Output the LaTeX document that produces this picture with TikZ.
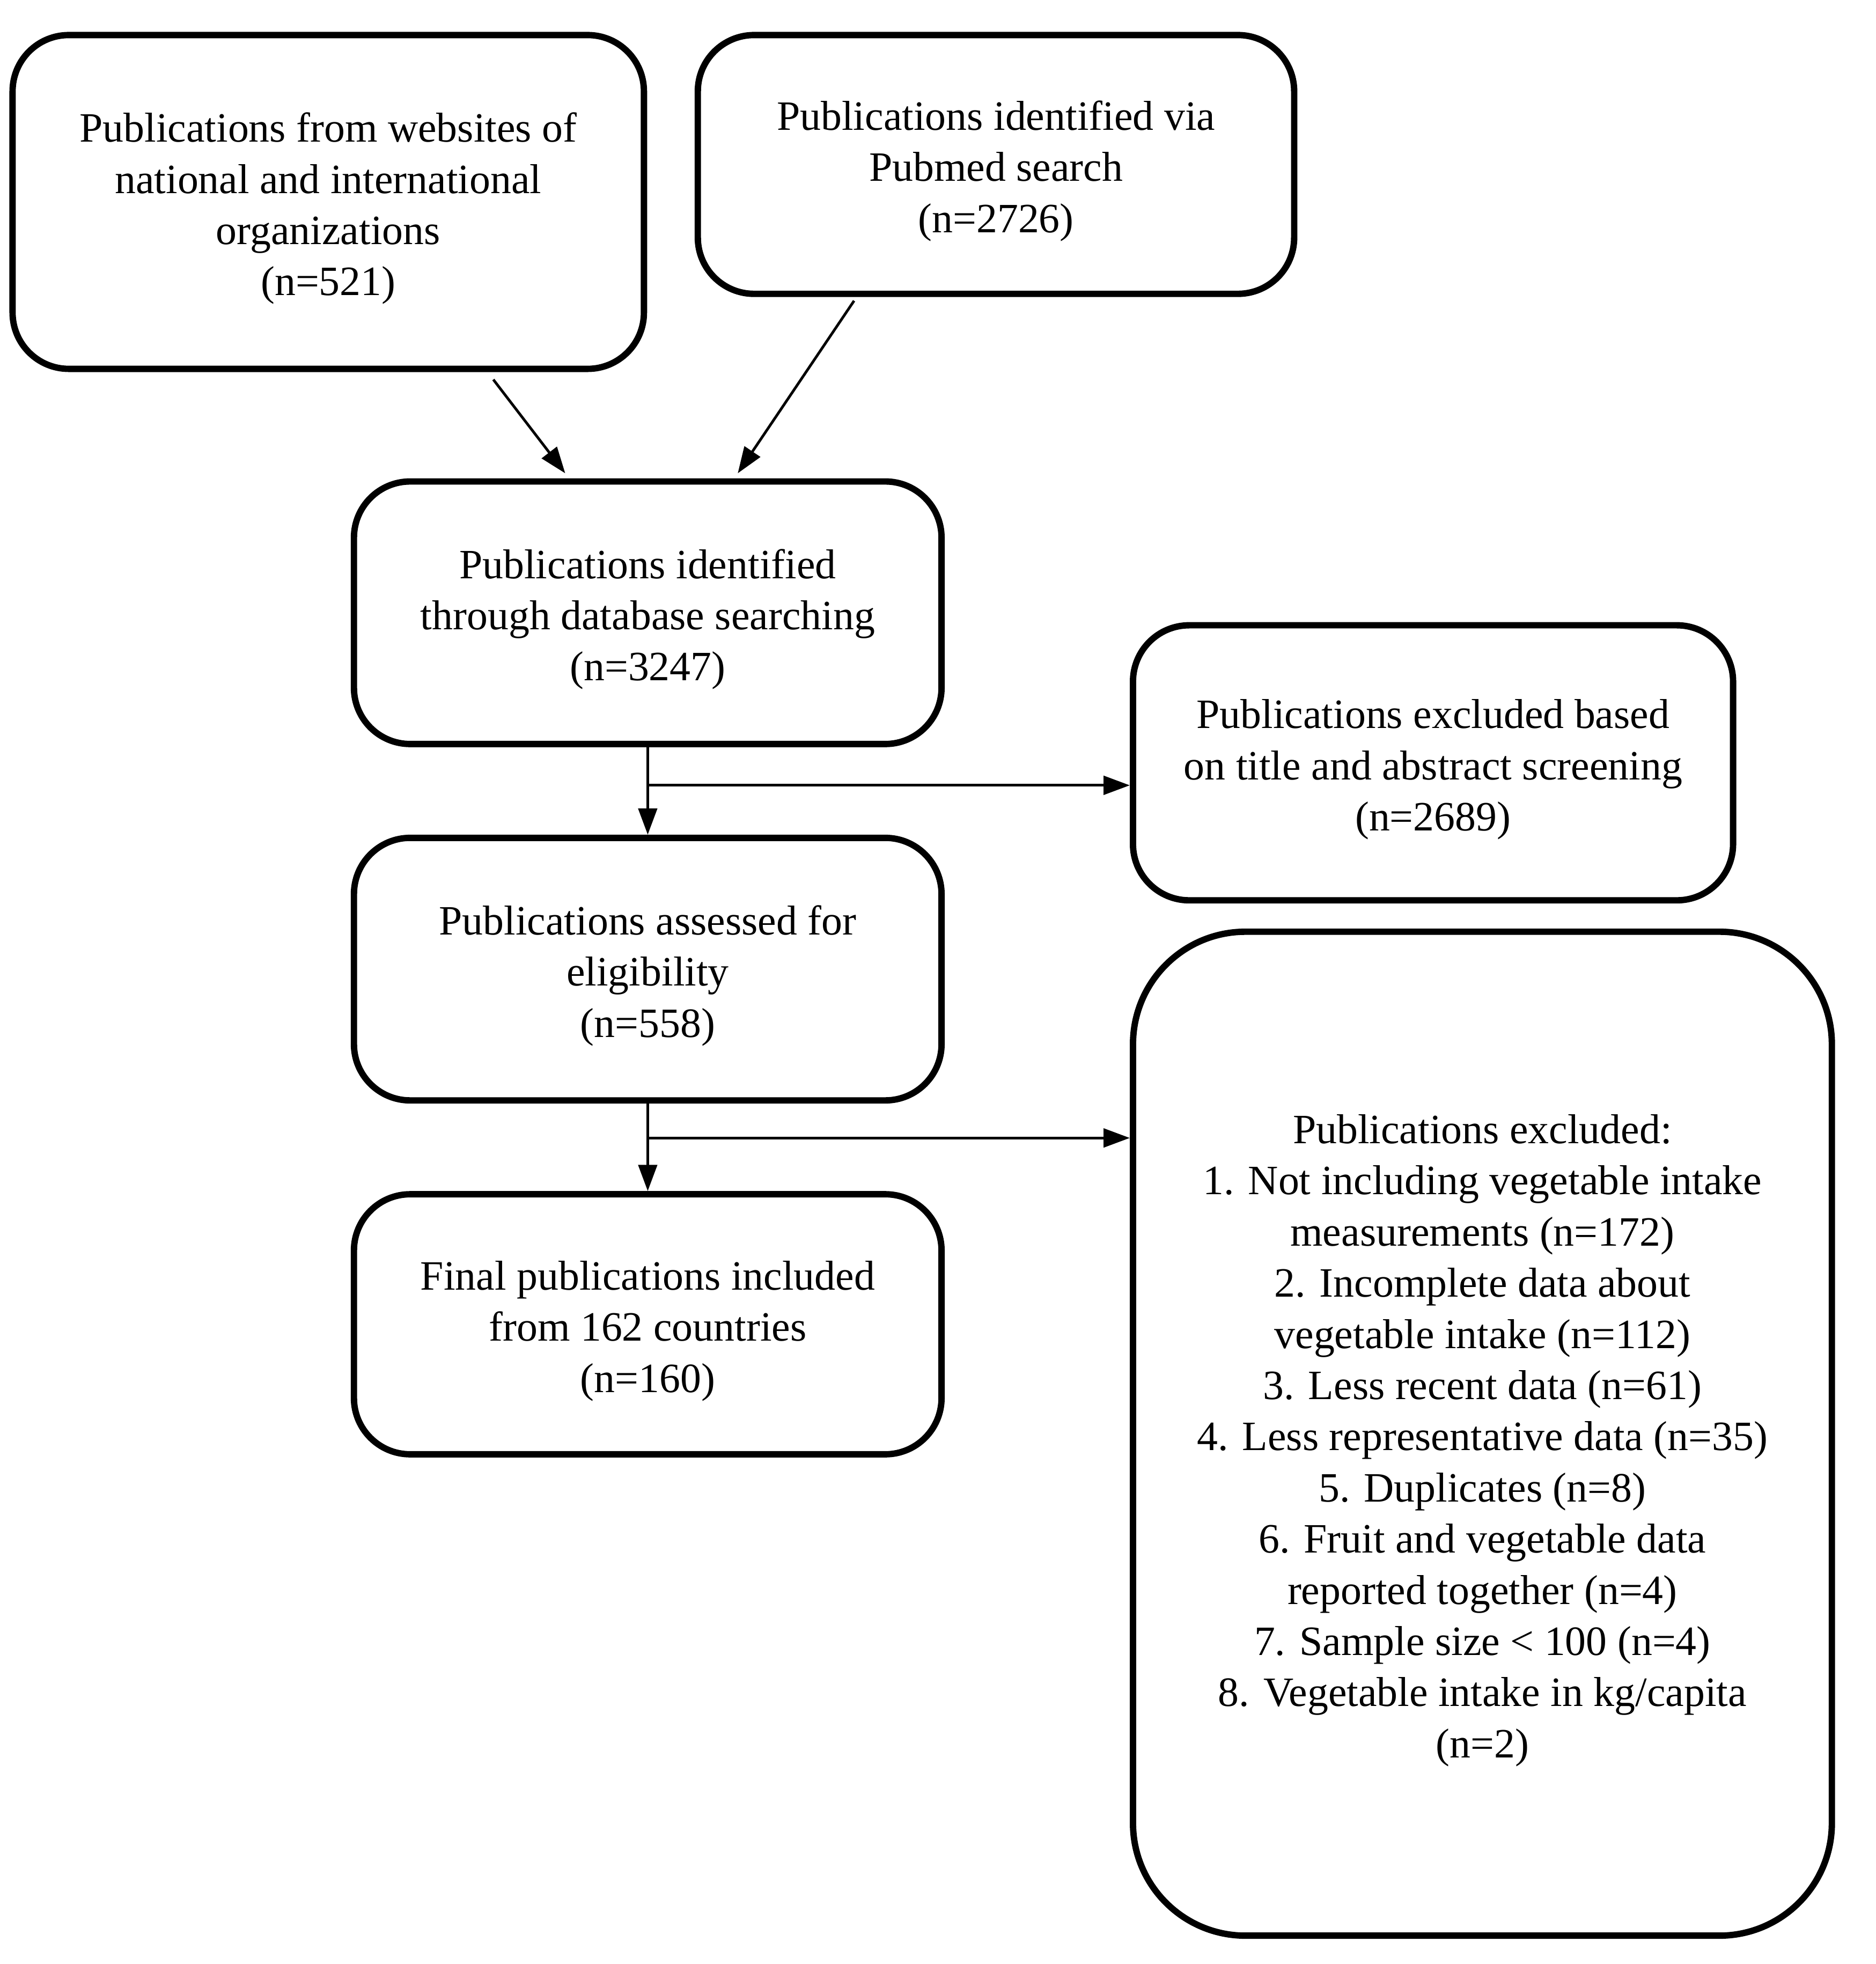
\documentclass[tikz,border=0pt]{standalone}
\usepackage{fontspec}
\setmainfont{Liberation Serif}
\usetikzlibrary{arrows.meta,calc}
\newcommand{\boxtext}[1]{\raisebox{-3pt}[\height][\depth]{\begin{tabular}{@{}c@{}}#1\end{tabular}}}
\begin{document}
\begin{tikzpicture}[x=0.02cm,y=-0.02cm,
  box/.style={draw,line width=2.9pt,rounded corners=0.9cm,inner sep=0pt,
    font=\fontsize{19}{23.3}\selectfont},
  arr/.style={line width=1.2pt,-{Triangle[length=0.42cm,width=0.3cm]}}]
\useasboundingbox (0,0) rectangle (1500.2,1570.6);
\node[box,minimum width=10.1cm,minimum height=5.34cm] (A) at (262.5,161.5)
  {\boxtext{Publications from websites of\\national and international\\organizations\\(n=521)}};
\node[box,minimum width=9.54cm,minimum height=4.14cm] (B) at (796.5,131.5)
  {\boxtext{Publications identified via\\Pubmed search\\(n=2726)}};
\node[box,minimum width=9.4cm,minimum height=4.2cm] (C) at (518,490)
  {\boxtext{Publications identified\\through database searching\\(n=3247)}};
\node[box,minimum width=9.6cm,minimum height=4.4cm] (D) at (1146,610)
  {\boxtext{Publications excluded based\\on title and abstract screening\\(n=2689)}};
\node[box,minimum width=9.4cm,minimum height=4.2cm] (E) at (518,775)
  {\boxtext{Publications assessed for\\eligibility\\(n=558)}};
\node[box,minimum width=9.4cm,minimum height=4.16cm] (F) at (518,1059)
  {\boxtext{Final publications included\\from 162 countries\\(n=160)}};
\node[box,rounded corners=1.8cm,minimum width=11.18cm,minimum height=16.06cm] (G) at (1185.5,1146.5)
  {\boxtext{Publications excluded:\\1. Not including vegetable intake\\measurements (n=172)\\2. Incomplete data about\\vegetable intake (n=112)\\3. Less recent data (n=61)\\4. Less representative data (n=35)\\5. Duplicates (n=8)\\6. Fruit and vegetable data\\reported together (n=4)\\7. Sample size < 100 (n=4)\\8. Vegetable intake in kg/capita\\(n=2)}};
\draw[arr] ($(A.south)+(132,6)$) -- ($(C.north)+(-66,-4)$);
\draw[arr] ($(B.south)+(-113.5,3)$) -- ($(C.north)+(72,-4)$);
\draw[arr] (C.south) -- (E.north);
\draw[arr] (E.south) -- (F.north);
\coordinate (j1) at (518,628);
\coordinate (j2) at (518,910);
\draw[arr] (j1) -- (j1 -| D.west);
\draw[arr] (j2) -- (j2 -| G.west);
\end{tikzpicture}
\end{document}
